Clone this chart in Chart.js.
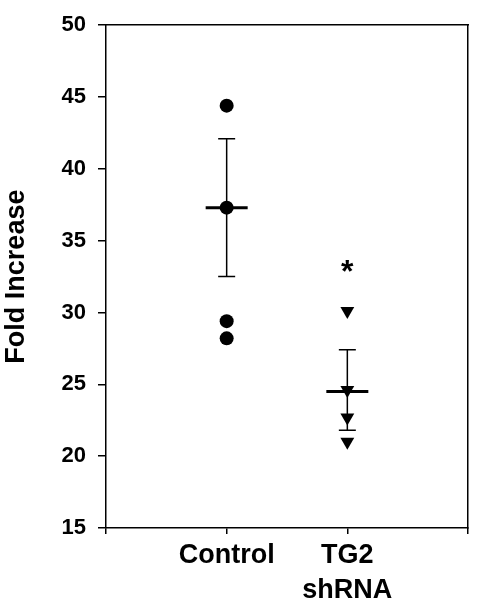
<!DOCTYPE html>
<html>
<head>
<meta charset="utf-8">
<script src="https://cdn.jsdelivr.net/npm/chart.js"></script>
<style>
  body { margin: 0; background: #fff; }
  #wrap { width: 481px; height: 606px; }
</style>
</head>
<body>
<div id="wrap"><canvas id="foldChart" width="481" height="606"></canvas></div>
<script>
// Groups on the x axis (positions 1 and 2)
const categories = ['Control', ['TG2', 'shRNA']];

// Individual points
const controlValues = [44.4, 37.3, 29.4, 28.2];
const shrnaValues = [30.1, 24.6, 22.7, 21.0];

// Mean and error bar per group
const means = [37.3, 24.5];
const errLow = [32.5, 21.8];
const errHigh = [42.1, 27.4];

// Significance mark per group
const sigMarks = ['', '*'];
const sigValues = [null, 33.4];

// y axis ticks
const yTicks = [15, 20, 25, 30, 35, 40, 45, 50];

const FONT = "'Liberation Sans', Arial, sans-serif";

// Mean lines, error bars and the asterisk
const errorBarPlugin = {
  id: 'errorBars',
  afterDatasetsDraw(chart) {
    const ctx = chart.ctx;
    const xs = chart.scales.x;
    const ys = chart.scales.y;
    ctx.save();
    ctx.strokeStyle = '#000';
    ctx.fillStyle = '#000';
    for (let i = 0; i < means.length; i++) {
      const x = xs.getPixelForValue(i + 1);
      const yLo = ys.getPixelForValue(errLow[i]);
      const yHi = ys.getPixelForValue(errHigh[i]);
      const yM = ys.getPixelForValue(means[i]);

      ctx.lineWidth = 1.5;
      ctx.beginPath();
      ctx.moveTo(x, yLo);
      ctx.lineTo(x, yHi);
      ctx.moveTo(x - 8.5, yLo);
      ctx.lineTo(x + 8.5, yLo);
      ctx.moveTo(x - 8.5, yHi);
      ctx.lineTo(x + 8.5, yHi);
      ctx.stroke();

      ctx.lineWidth = 3;
      ctx.beginPath();
      ctx.moveTo(x - 21, yM);
      ctx.lineTo(x + 21, yM);
      ctx.stroke();

      if (sigMarks[i]) {
        const ySig = ys.getPixelForValue(sigValues[i]);
        ctx.font = 'bold 32px ' + FONT;
        ctx.textAlign = 'center';
        ctx.textBaseline = 'alphabetic';
        ctx.fillText(sigMarks[i], x, ySig + 18);
      }
    }
    ctx.restore();
  }
};

const ctx = document.getElementById('foldChart').getContext('2d');
new Chart(ctx, {
  type: 'scatter',
  data: {
    datasets: [
      {
        label: 'Control',
        data: controlValues.map(v => ({ x: 1, y: v })),
        pointStyle: 'circle',
        pointRadius: 7,
        pointHoverRadius: 7,
        backgroundColor: '#000',
        borderColor: '#000',
        borderWidth: 0
      },
      {
        label: 'TG2 shRNA',
        data: shrnaValues.map(v => ({ x: 2, y: v })),
        pointStyle: 'triangle',
        pointRotation: 180,
        pointRadius: 8,
        pointHoverRadius: 8,
        backgroundColor: '#000',
        borderColor: '#000',
        borderWidth: 0
      }
    ]
  },
  options: {
    responsive: false,
    animation: false,
    layout: { padding: { top: 21, right: 13, left: 0, bottom: 0 } },
    plugins: {
      legend: { display: false },
      tooltip: { enabled: false }
    },
    scales: {
      x: {
        type: 'linear',
        min: 0,
        max: 3,
        afterBuildTicks: (scale) => {
          scale.ticks = [0, 1, 2, 3].map(v => ({ value: v }));
        },
        afterFit: (scale) => { scale.height = 78; },
        ticks: {
          color: '#000',
          padding: 4,
          maxRotation: 0,
          autoSkip: false,
          font: { family: FONT, size: 27, weight: 'bold', lineHeight: 1.3 },
          callback: (v) => (v >= 1 && v <= categories.length ? categories[v - 1] : '')
        },
        grid: {
          drawOnChartArea: false,
          drawTicks: true,
          tickLength: 6,
          color: '#000',
          lineWidth: 1.5
        },
        border: { display: true, color: '#000', width: 1.5 }
      },
      y: {
        min: 15,
        max: 50,
        afterBuildTicks: (scale) => {
          scale.ticks = yTicks.map(v => ({ value: v }));
        },
        afterFit: (scale) => { scale.width = 106; },
        ticks: {
          color: '#000',
          padding: 12,
          font: { family: FONT, size: 22, weight: 'bold' }
        },
        grid: {
          drawOnChartArea: false,
          drawTicks: true,
          tickLength: 8,
          color: '#000',
          lineWidth: 1.5
        },
        border: { display: true, color: '#000', width: 1.5 },
        title: {
          display: true,
          text: 'Fold Increase',
          color: '#000',
          padding: { top: 0, bottom: 0 },
          font: { family: FONT, size: 27, weight: 'bold' }
        }
      },
      x2: {
        type: 'linear',
        position: 'top',
        min: 0,
        max: 3,
        afterFit: (scale) => { scale.height = 0; },
        ticks: { display: false },
        grid: { display: false },
        border: { display: true, color: '#000', width: 1.5 }
      },
      y2: {
        position: 'right',
        min: 15,
        max: 50,
        afterFit: (scale) => { scale.width = 0; },
        ticks: { display: false },
        grid: { display: false },
        border: { display: true, color: '#000', width: 1.5 }
      }
    }
  },
  plugins: [errorBarPlugin]
});
</script>
</body>
</html>
